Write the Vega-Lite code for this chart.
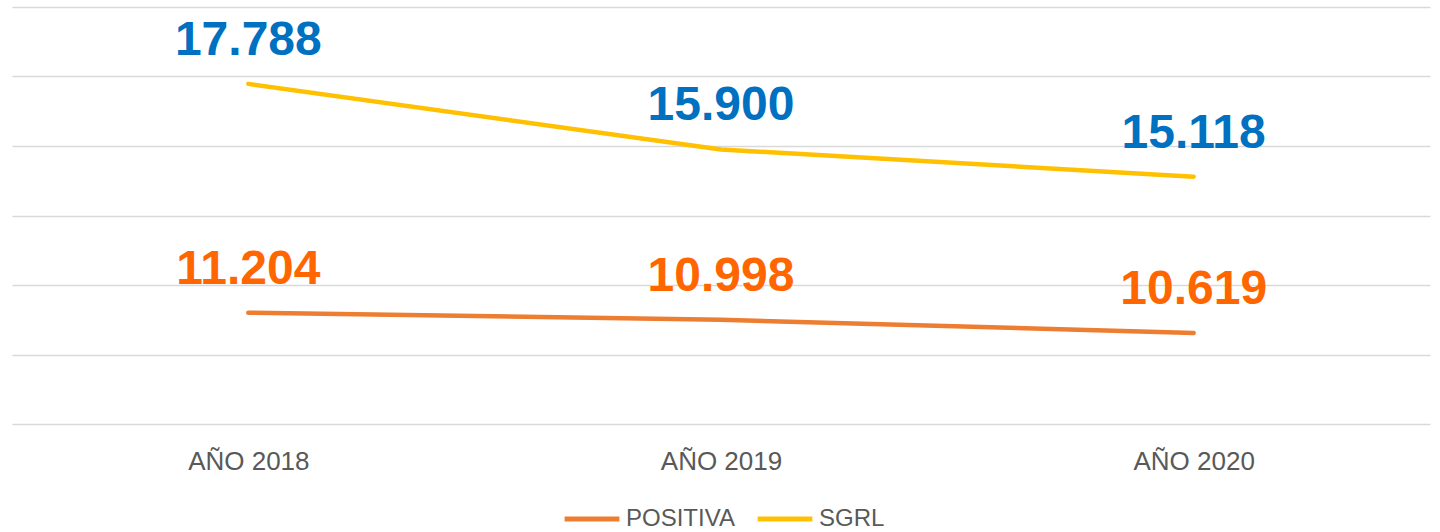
{
  "$schema": "https://vega.github.io/schema/vega-lite/v6.json",
  "autosize": "none",
  "width": 1418,
  "height": 417,
  "padding": {"left": 12, "top": 7, "right": 10, "bottom": 108},
  "background": "white",
  "config": {
    "view": {"stroke": null},
    "locale": {"number": {"decimal": ",", "thousands": ".", "grouping": [3], "currency": ["", ""]}}
  },
  "data": {
    "values": [
      {"year": "AÑO 2018", "series": "POSITIVA", "value": 11204},
      {"year": "AÑO 2019", "series": "POSITIVA", "value": 10998},
      {"year": "AÑO 2020", "series": "POSITIVA", "value": 10619},
      {"year": "AÑO 2018", "series": "SGRL", "value": 17788},
      {"year": "AÑO 2019", "series": "SGRL", "value": 15900},
      {"year": "AÑO 2020", "series": "SGRL", "value": 15118}
    ]
  },
  "encoding": {
    "x": {
      "field": "year", "type": "ordinal", "sort": null,
      "scale": {"type": "point", "padding": 0.5},
      "axis": {"title": null, "domain": false, "ticks": false, "grid": false, "labelAngle": 0,
        "labelFont": "Liberation Sans", "labelFontSize": 26, "labelColor": "#595959", "labelPadding": 24}
    },
    "y": {
      "field": "value", "type": "quantitative",
      "scale": {"domain": [8000, 20000], "nice": false, "zero": false},
      "axis": {"title": null, "labels": false, "ticks": false, "domain": false,
        "values": [8000, 10000, 12000, 14000, 16000, 18000, 20000],
        "grid": true, "gridColor": "#D9D9D9", "gridWidth": 1.5}
    }
  },
  "layer": [
    {
      "mark": {"type": "line", "strokeWidth": 4.5, "strokeCap": "round", "strokeJoin": "round"},
      "encoding": {
        "color": {
          "field": "series", "type": "nominal",
          "scale": {"domain": ["POSITIVA", "SGRL"], "range": ["#ED7D31", "#FFC000"]},
          "legend": {"title": null, "orient": "none", "direction": "horizontal",
            "legendX": 550, "legendY": 482,
            "symbolType": "stroke", "symbolSize": 3000, "symbolStrokeWidth": 5,
            "labelFont": "Liberation Sans", "labelFontSize": 24, "labelColor": "#595959",
            "labelOffset": 4, "columnPadding": 12}
        }
      }
    },
    {
      "mark": {"type": "text", "font": "Liberation Sans", "fontWeight": "bold", "fontSize": 48,
        "baseline": "alphabetic", "dy": -29, "align": "center"},
      "encoding": {
        "text": {"field": "value", "type": "quantitative", "format": ",d"},
        "color": {
          "field": "series", "type": "nominal",
          "scale": {"domain": ["POSITIVA", "SGRL"], "range": ["#FF6600", "#0070C0"]},
          "legend": null
        }
      }
    }
  ],
  "resolve": {"scale": {"color": "independent"}}
}
